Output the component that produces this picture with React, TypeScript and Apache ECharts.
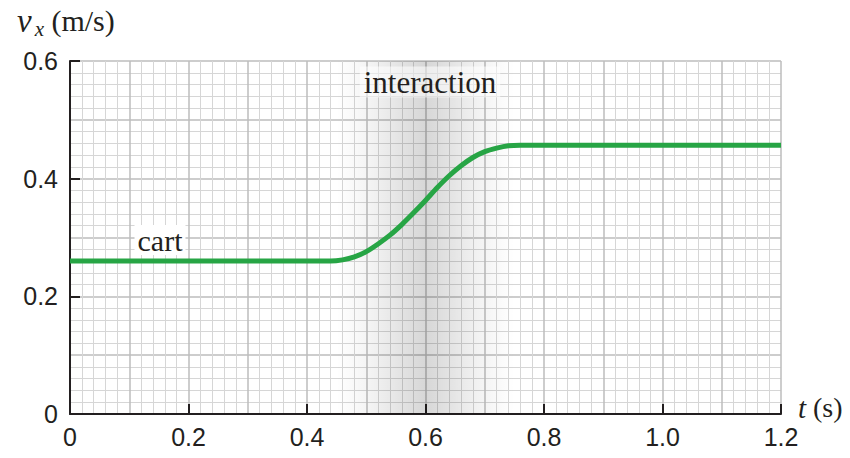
import React, { useEffect, useRef } from "react";
import * as echarts from "echarts";

const timeValues = [0, 0.4, 0.44, 0.46, 0.48, 0.5, 0.52, 0.54, 0.56, 0.58, 0.6, 0.62, 0.64, 0.66, 0.68, 0.7, 0.72, 0.74, 0.76, 0.8, 1.2];
const velocityValues = [0.26, 0.26, 0.26, 0.262, 0.267, 0.276, 0.289, 0.304, 0.322, 0.342, 0.363, 0.385, 0.405, 0.422, 0.436, 0.446, 0.452, 0.456, 0.457, 0.457, 0.457];
const interactionRange = [0.45, 0.75];
const xTickLabels = ["0", "0.2", "0.4", "0.6", "0.8", "1.0", "1.2"];
const yTickLabels = ["0", "0.2", "0.4", "0.6"];

export default function App() {
  const ref = useRef<HTMLDivElement>(null);
  useEffect(() => {
    if (!ref.current) return;
    const chart = echarts.init(ref.current, null, { renderer: "svg" });
    const data = timeValues.map((t, i) => [t, velocityValues[i]]);
    const labelFont = { fontFamily: "Liberation Sans, Arial, sans-serif", fontSize: 25, color: "#231f20" };
    const fmtX = (v: number) => xTickLabels[Math.round(v / 0.2)] ?? "";
    const fmtY = (v: number) => yTickLabels[Math.round(v / 0.2)] ?? "";
    const serif = "Liberation Serif, Times New Roman, serif";
    chart.setOption({
      animation: false,
      backgroundColor: "#ffffff",
      grid: { left: 70, right: 69, top: 61, bottom: 44, containLabel: false },
      xAxis: [
        {
          type: "value", min: 0, max: 1.2, interval: 0.1,
          axisLine: { show: false }, axisTick: { show: false }, axisLabel: { show: false },
          splitLine: { show: true, lineStyle: { color: "#bcbcbc", width: 1.5 } },
          minorTick: { show: false, splitNumber: 5 },
          minorSplitLine: { show: true, lineStyle: { color: "#d6d6d6", width: 1 } },
        },
        {
          type: "value", min: 0, max: 1.2, interval: 0.2, position: "bottom",
          axisLine: { show: true, onZero: false, lineStyle: { color: "#231f20", width: 2 } },
          axisTick: { show: true, inside: true, length: 10, lineStyle: { color: "#231f20", width: 2 } },
          axisLabel: { ...labelFont, margin: 10, formatter: fmtX },
          splitLine: { show: false },
        },
      ],
      yAxis: [
        {
          type: "value", min: 0, max: 0.6, interval: 0.1,
          axisLine: { show: false }, axisTick: { show: false }, axisLabel: { show: false },
          splitLine: { show: true, lineStyle: { color: "#bcbcbc", width: 1.5 } },
          minorTick: { show: false, splitNumber: 5 },
          minorSplitLine: { show: true, lineStyle: { color: "#d6d6d6", width: 1 } },
        },
        {
          type: "value", min: 0, max: 0.6, interval: 0.2, position: "left",
          axisLine: { show: true, onZero: false, lineStyle: { color: "#231f20", width: 2 } },
          axisTick: { show: true, inside: true, length: 10, lineStyle: { color: "#231f20", width: 2 } },
          axisLabel: { ...labelFont, margin: 12, formatter: fmtY },
          splitLine: { show: false },
        },
      ],
      series: [
        {
          type: "line",
          xAxisIndex: 0,
          yAxisIndex: 0,
          data,
          smooth: 0.3,
          showSymbol: false,
          lineStyle: { color: "#27a545", width: 5 },
          z: 5,
          markArea: {
            silent: true,
            itemStyle: {
              color: new echarts.graphic.LinearGradient(0, 0, 1, 0, [
                { offset: 0, color: "rgba(0,0,0,0)" },
                { offset: 0.2, color: "rgba(0,0,0,0.05)" },
                { offset: 0.5, color: "rgba(0,0,0,0.16)" },
                { offset: 0.8, color: "rgba(0,0,0,0.05)" },
                { offset: 1, color: "rgba(0,0,0,0)" },
              ]),
            },
            data: [[{ xAxis: interactionRange[0], yAxis: 0 }, { xAxis: interactionRange[1], yAxis: 0.6 }]],
          },
        },
      ],
      graphic: [
        {
          type: "text", left: 17, top: 4, z: 10,
          style: {
            text: "{v|v}{s|x}{u| (m/s)}",
            rich: {
              v: { fontFamily: serif, fontStyle: "italic", fontSize: 33, fill: "#231f20" },
              s: { fontFamily: serif, fontStyle: "italic", fontSize: 21, fill: "#231f20", padding: [16, 0, 0, 3] },
              u: { fontFamily: serif, fontSize: 30, fill: "#231f20" },
            },
          },
        },
        {
          type: "text", left: 798, top: 393, z: 10,
          style: {
            text: "{t|t}{u| (s)}",
            rich: {
              t: { fontFamily: serif, fontStyle: "italic", fontSize: 29, fill: "#231f20" },
              u: { fontFamily: serif, fontSize: 28, fill: "#231f20" },
            },
          },
        },
        {
          type: "text", x: 430, y: 82, z: 10,
          style: {
            text: "interaction", align: "center", verticalAlign: "middle",
            fontFamily: serif, fontSize: 31, fill: "#231f20",
            backgroundColor: "rgba(255,255,255,0.55)", padding: [0, 4, 0, 4],
          },
        },
        {
          type: "text", x: 160, y: 240, z: 10,
          style: {
            text: "cart", align: "center", verticalAlign: "middle",
            fontFamily: serif, fontSize: 30, fill: "#231f20",
            backgroundColor: "#ffffff", padding: [0, 3, 0, 3],
          },
        },
      ],
    });
    return () => chart.dispose();
  }, []);
  return <div ref={ref} style={{ width: 850, height: 458, position: "absolute", left: 0, top: 0 }} />;
}
